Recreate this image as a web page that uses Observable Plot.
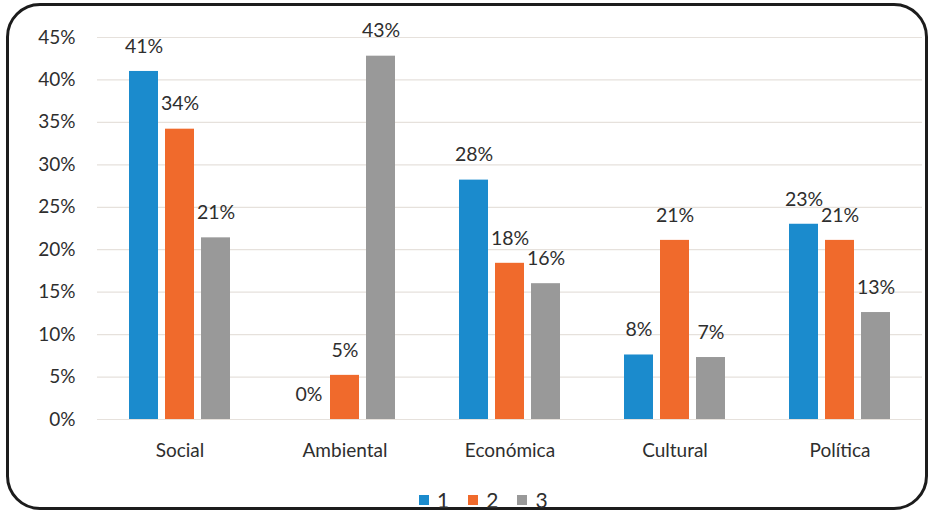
<!DOCTYPE html>
<html>
<head>
<meta charset="utf-8">
<script src="https://cdn.jsdelivr.net/npm/d3@7"></script>
<script src="https://cdn.jsdelivr.net/npm/@observablehq/plot@0.6"></script>
<style>
  html, body { margin: 0; padding: 0; background: #fff; width: 933px; height: 513px; overflow: hidden; }
  #frame { position: absolute; left: 6px; top: 3px; width: 916px; height: 501px; border: 3px solid #1c1c1c; border-radius: 34px; background: #fff; }
  #chart { position: absolute; left: 0; top: 0; }
  #legend { position: absolute; left: 419px; top: 490px; display: flex; align-items: center; font-family: Lato, sans-serif; font-size: 21px; color: #2e2e2e; line-height: 20px; }
  #legend .item { display: flex; align-items: center; margin-right: 19px; }
  #legend .sw { width: 10px; height: 10px; margin-right: 8px; }
</style>
</head>
<body>
<div id="frame"><div id="chart"></div></div>
<div id="legend"></div>
<script>
const categories = ["Social", "Ambiental", "Económica", "Cultural", "Política"];
const series = ["1", "2", "3"];
const values1 = [41.0, 0, 28.2, 7.6, 23.0];
const values2 = [34.2, 5.2, 18.4, 21.1, 21.1];
const values3 = [21.4, 42.8, 16.0, 7.3, 12.6];
const yTicks = [0, 5, 10, 15, 20, 25, 30, 35, 40, 45];
const colors = ["#1b8bcd", "#f06a2c", "#999999"];

const seriesValues = [values1, values2, values3];
const data = categories.flatMap((c, i) => series.map((s, j) => ({category: c, series: s, value: seriesValues[j][i]})));

const chart = Plot.plot({
  width: 916,
  height: 465,
  marginTop: 31,
  marginBottom: 52,
  marginLeft: 88,
  marginRight: 3,
  style: {fontFamily: "Lato, sans-serif", fontSize: "19px", color: "#2e2e2e", background: "transparent", overflow: "visible"},
  fx: {domain: categories, padding: 0, label: null, axis: "bottom", tickSize: 0, tickPadding: 24, fontSize: 20},
  x: {domain: series, axis: null, paddingInner: 0.205, paddingOuter: 0.8625},
  y: {domain: [0, 45], ticks: yTicks, tickFormat: d => d + "%", label: null, tickSize: 0, tickPadding: 22},
  color: {domain: series, range: colors},
  marks: [
    Plot.ruleY(yTicks, {stroke: "#e6e1dc", strokeWidth: 1.2}),
    Plot.barY(data, {fx: "category", x: "series", y: "value", fill: "series"}),
    Plot.text(data, {fx: "category", x: "series", y: "value", text: d => Math.round(d.value) + "%", dy: -25, fill: "#2e2e2e", fontSize: 19.5})
  ]
});
document.getElementById("chart").appendChild(chart);

const legend = document.getElementById("legend");
series.forEach((s, i) => {
  const item = document.createElement("div");
  item.className = "item";
  const sw = document.createElement("div");
  sw.className = "sw";
  sw.style.background = colors[i];
  const t = document.createElement("span");
  t.textContent = s;
  item.appendChild(sw);
  item.appendChild(t);
  legend.appendChild(item);
});
</script>
</body>
</html>
